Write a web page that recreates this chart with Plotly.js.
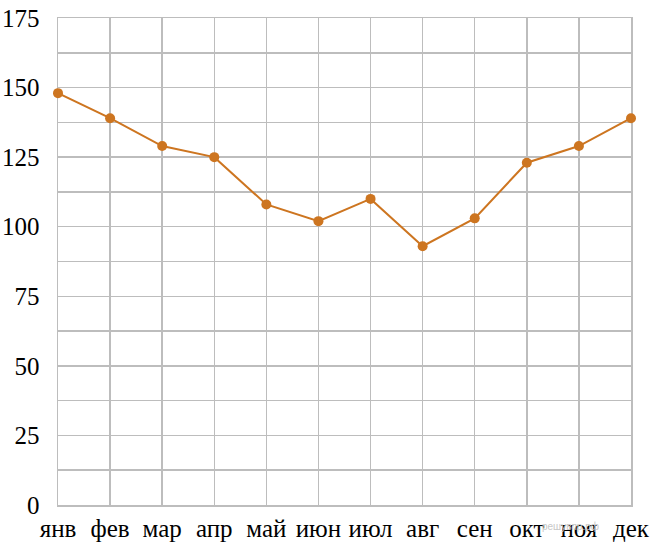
<!DOCTYPE html>
<html><head><meta charset="utf-8">
<script src="https://cdn.plot.ly/plotly-3.0.1.min.js"></script>
<style>html,body{margin:0;padding:0;background:#fff}#c{width:657px;height:543px}</style>
</head><body><div id="c"></div>
<script>
const months = ["янв","фев","мар","апр","май","июн","июл","авг","сен","окт","ноя","дек"];
const values = [148, 139, 129, 125, 108, 102, 110, 93, 103, 123, 129, 139];
const yTickVals = [0,12.5,25,37.5,50,62.5,75,87.5,100,112.5,125,137.5,150,162.5,175];
const yTickText = ["0","","25","","50","","75","","100","","125","","150","","175"];

const xIdx = months.map((m,i)=>i);
const lineColor = "#cd7520";
const gridColor = "#bdbdbd";

Plotly.newPlot("c", [{
  x: xIdx, y: values, type: "scatter", mode: "lines+markers",
  line: {color: lineColor, width: 2},
  marker: {color: lineColor, size: 10},
  cliponaxis: false,
  hoverinfo: "none"
}], {
  width: 657, height: 543,
  margin: {l: 58, r: 26, t: 18, b: 38},
  paper_bgcolor: "#fff", plot_bgcolor: "#fff",
  showlegend: false,
  font: {family: "'Liberation Serif', serif", size: 25, color: "#000"},
  xaxis: {
    range: [0, 11], tickvals: xIdx, ticktext: months,
    showgrid: true, gridcolor: gridColor, gridwidth: 1.5,
    zeroline: false, showline: true, linecolor: gridColor, linewidth: 1.5, mirror: true,
    ticks: "", ticklabelstandoff: 0, fixedrange: true, layer: "below traces"
  },
  yaxis: {
    range: [0, 175], tickvals: yTickVals, ticktext: yTickText,
    showgrid: true, gridcolor: gridColor, gridwidth: 1.5,
    zeroline: false, showline: true, linecolor: gridColor, linewidth: 1.5, mirror: true,
    ticks: "", ticklabelstandoff: 12, fixedrange: true, layer: "below traces"
  },
  annotations: [{
    text: "решувпр.рф", x: 0.895, y: -0.028, xref: "paper", yref: "paper",
    showarrow: false, font: {family: "Liberation Sans", size: 10, color: "#c8c8c8"},
    xanchor: "center", yanchor: "top"
  }]
}, {staticPlot: true, displayModeBar: false});
</script>
</body></html>
